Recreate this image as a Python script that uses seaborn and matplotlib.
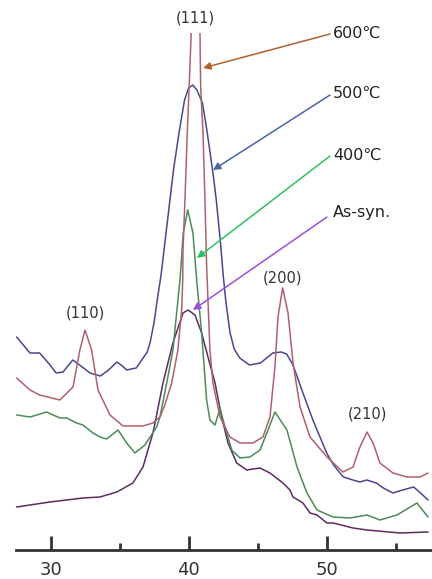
import matplotlib
matplotlib.use("Agg")
import matplotlib.pyplot as plt
import seaborn as sns
import pandas as pd

# ---- data (2-theta, intensity a.u.) ----
x_600 = [27.54, 28.5, 29.2, 30.67, 31.62, 32.12, 32.49, 32.97, 33.43, 34.3, 35.24, 36.0, 36.69, 37.41, 37.92,
         38.27, 38.77, 39.22, 39.49, 39.57, 39.59, 39.73, 39.9, 40.09, 40.3, 40.5, 40.7, 40.82, 40.87, 41.04,
         41.18, 41.3, 41.54, 41.76, 42.27, 42.99, 43.72, 44.66, 45.38, 45.89, 46.25, 46.47, 46.81, 47.2, 47.56,
         48.07, 48.79, 50.02, 51.18, 51.91, 52.41, 52.92, 53.36, 53.86, 54.8, 55.82, 56.76, 57.34]
y_600 = [172, 160, 155, 150, 163, 200, 220, 200, 160, 135, 124, 124, 124, 127, 133,
         145, 167, 200, 240, 270, 300, 350, 417, 483, 560, 600, 560, 517, 463, 417,
         350, 285, 200, 167, 133, 113, 107, 107, 113, 133, 183, 233, 262, 237, 187,
         143, 113, 93, 78, 83, 103, 118, 107, 87, 77, 73, 73, 77]

x_500 = [27.54, 28.5, 29.2, 29.9, 30.4, 30.9, 31.6, 32.2, 32.85, 33.6, 34.2, 34.8, 35.2, 35.5, 36.2, 36.7,
         37.0, 37.2, 37.5, 37.7, 38.0, 38.3, 38.6, 38.9, 39.3, 39.7, 40.0, 40.3, 40.6, 41.0, 41.35, 41.76,
         42.0, 42.3, 42.5, 42.7, 43.0, 43.3, 43.7, 44.4, 45.2, 46.1, 46.7, 47.1, 47.56, 48.28, 49.0, 50.0,
         50.5, 51.2, 51.9, 52.4, 52.9, 53.6, 54.1, 54.8, 55.5, 56.3, 56.8, 57.34]
y_500 = [213, 197, 197, 186, 177, 178, 190, 184, 177, 174, 180, 188, 184, 180, 182, 192,
         198, 207, 228, 248, 275, 310, 345, 380, 417, 450, 462, 465, 460, 447, 417, 377,
         350, 308, 275, 248, 217, 201, 192, 185, 187, 197, 198, 196, 185, 157, 130, 97,
         85, 73, 70, 68, 70, 67, 62, 57, 60, 63, 57, 50]

x_400 = [27.54, 28.5, 29.71, 30.67, 31.16, 31.88, 32.34, 33.07, 33.57, 34.06, 34.88, 35.51, 36.11, 36.83,
         37.68, 37.92, 38.41, 38.86, 39.37, 39.61, 39.93, 40.31, 40.58, 40.94, 41.3, 41.54, 41.91, 42.27,
         42.63, 43.12, 43.72, 44.44, 45.17, 45.75, 46.25, 47.12, 47.85, 48.57, 49.3, 50.46, 51.69, 52.92,
         53.86, 55.09, 56.54, 57.34]
y_400 = [135, 133, 138, 132, 132, 127, 125, 117, 113, 111, 120, 107, 97, 105,
         123, 133, 167, 200, 270, 317, 340, 317, 270, 217, 150, 130, 125, 142,
         123, 100, 92, 93, 100, 120, 138, 120, 83, 57, 40, 33, 32, 35,
         30, 35, 47, 33]

x_as = [27.54, 29.95, 32.34, 33.57, 34.8, 35.96, 36.69, 37.41, 37.56, 38.14, 38.86, 39.59, 39.95, 40.46,
        40.94, 41.4, 41.91, 42.39, 42.85, 43.48, 44.2, 45.17, 45.89, 46.83, 47.34, 47.56, 48.28, 48.79,
        49.3, 50.02, 50.46, 51.91, 52.92, 55.31, 57.34]
y_as = [43, 48, 52, 53, 58, 67, 83, 117, 127, 167, 207, 237, 240, 235,
        217, 193, 167, 133, 107, 87, 80, 82, 77, 67, 60, 53, 47, 37,
        35, 27, 27, 22, 20, 17, 18]

series_labels = ["600\u2103", "500\u2103", "400\u2103", "As-syn."]
peak_labels = ["(111)", "(110)", "(200)", "(210)"]
tick_values = [30, 40, 50]
minor_tick_values = [35, 45, 55]

colors = {"600": "#b0606c", "500": "#48488e", "400": "#4a8c58", "as": "#5c2c62"}
arrow_colors = ["#b0602c", "#4a64aa", "#30c060", "#9a50dc"]

sns.set_style("white")
plt.rcParams["font.family"] = ["DejaVu Sans"]

fig = plt.figure(figsize=(4.32, 5.79), dpi=100)
ax = fig.add_axes([16 / 432, 29 / 579, 416 / 432, 517 / 579])

for xs, ys, key in [(x_as, y_as, "as"), (x_400, y_400, "400"), (x_500, y_500, "500"), (x_600, y_600, "600")]:
    df = pd.DataFrame({"x": xs, "y": ys})
    sns.lineplot(data=df, x="x", y="y", ax=ax, color=colors[key], lw=1.1, sort=False)

ax.set_xlim(27.49, 57.63)
ax.set_ylim(0, 517)
ax.set_xlabel("")
ax.set_ylabel("")
ax.set_yticks([])
for s in ["top", "right", "left"]:
    ax.spines[s].set_visible(False)
ax.spines["bottom"].set_linewidth(2.0)
ax.spines["bottom"].set_color("#333333")
ax.set_xticks(tick_values)
ax.set_xticks(minor_tick_values, minor=True)
ax.tick_params(axis="x", which="major", direction="in", length=10, width=2, color="#333333",
               labelsize=13, labelcolor="#333333", pad=8, bottom=True)
ax.tick_params(axis="x", which="minor", direction="in", length=5, width=2, color="#333333", bottom=True)

# legend-like annotations with arrows
text_y = [517, 457, 395, 337]
arrow_start = [(50.24, 516), (50.24, 455), (50.24, 394), (50.02, 333)]
arrow_end = [(41.04, 482), (41.76, 380), (40.6, 292), (40.31, 240)]
for lab, ty, st, en, c in zip(series_labels, text_y, arrow_start, arrow_end, arrow_colors):
    ax.text(50.46, ty, lab, fontsize=11.5, color="#222222", ha="left", va="center", clip_on=False)
    ax.annotate("", xy=en, xytext=st, annotation_clip=False,
                arrowprops=dict(arrowstyle="-|>", color=c, lw=1.1, mutation_scale=11,
                                shrinkA=0, shrinkB=0))

peak_pos = [(40.46, 532), (32.49, 237), (46.83, 272), (52.92, 136)]
for lab, (px, py) in zip(peak_labels, peak_pos):
    ax.text(px, py, lab, fontsize=10.5, color="#333333", ha="center", va="center", clip_on=False)

fig.savefig("out.png", dpi=100)
